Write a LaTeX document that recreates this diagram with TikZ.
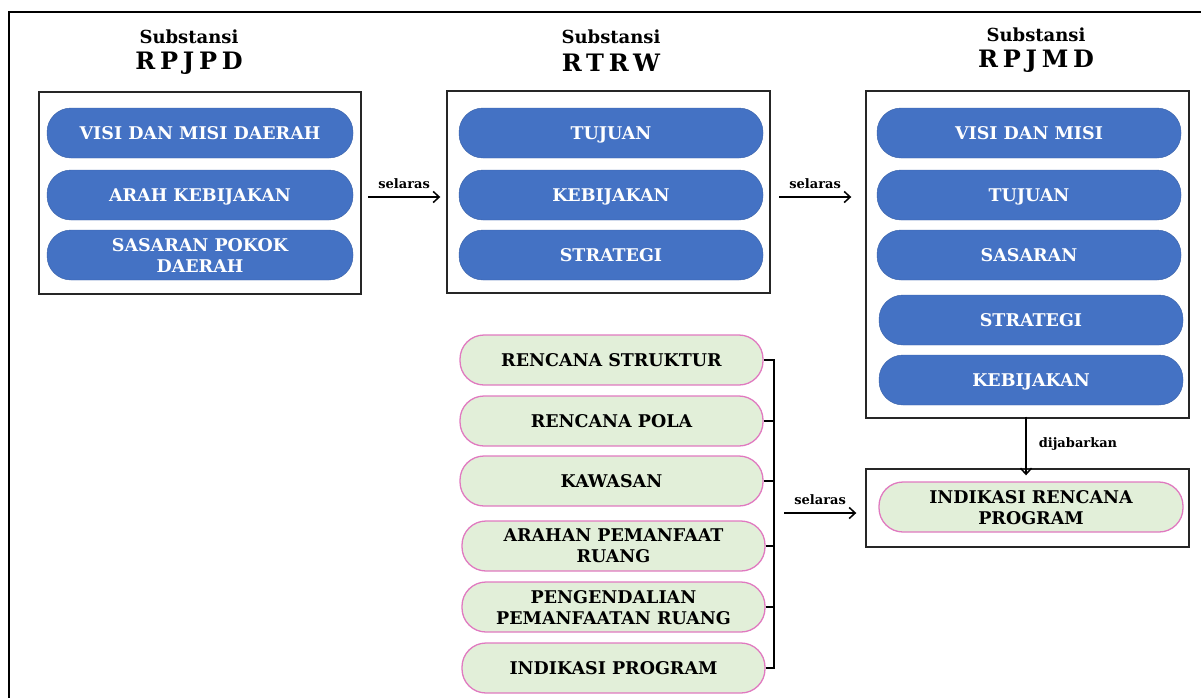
\documentclass[tikz,border=0pt]{standalone}
\usepackage{fontspec}
\setmainfont{DejaVu Serif}
\newfontfamily\hdrfont[LetterSpace=20]{DejaVu Serif}
\usetikzlibrary{arrows.meta,calc}
\definecolor{pblue}{HTML}{4472C4}
\definecolor{pgreen}{HTML}{E2EFD9}
\definecolor{ppink}{HTML}{E07AC0}
\begin{document}
\begin{tikzpicture}[x=1pt,y=-1pt,
  bpill/.style={rectangle,rounded corners=24pt,fill=pblue,draw=pblue!85!black,line width=0.4pt,
    minimum height=50pt,inner sep=0pt,align=center,text depth=0pt,text=white,font=\fontsize{17.5}{21}\selectfont\bfseries},
  gpill/.style={rectangle,rounded corners=24pt,fill=pgreen,draw=ppink,line width=1.3pt,
    minimum height=50pt,inner sep=0pt,align=center,text depth=0pt,text=black,font=\fontsize{17.5}{21}\selectfont\bfseries},
  frame/.style={rectangle,draw=black!85,line width=1.4pt,inner sep=0pt},
  lbl/.style={font=\fontsize{13}{14}\selectfont\bfseries,inner sep=0pt},
  subt/.style={font=\fontsize{18}{20}\selectfont\bfseries,inner sep=0pt},
  acr/.style={font=\fontsize{24}{26}\hdrfont\bfseries,inner sep=0pt},
  arr/.style={-{Straight Barb[length=6pt,width=11pt]},line width=1.5pt},
  brk/.style={line width=1.5pt}]
\useasboundingbox (0,0) rectangle (1201,697);
\clip (0,0) rectangle (1201,697);
\draw[line width=2.6pt] (9,12) rectangle (1220,720);
% headers
\node[subt] (h1s) at (189,37) {Substansi};
\node[acr] (h1a) at (189,63) {RPJPD};
\node[subt] (h2s) at (611,37) {Substansi};
\node[acr] (h2a) at (611,63) {RTRW};
\node[subt] (h3s) at (1036,35) {Substansi};
\node[acr] (h3a) at (1036,61) {RPJMD};
% frames
\node[frame,minimum width=322pt,minimum height=202pt] (b1) at (200,193) {};
\node[frame,minimum width=323pt,minimum height=202pt] (b2) at (608.5,192) {};
\node[frame,minimum width=323pt,minimum height=327pt] (b3) at (1027.5,254.5) {};
\node[frame,minimum width=323pt,minimum height=78pt] (b4) at (1027.5,508) {};
% column 1
\node[bpill,minimum width=306pt] (p11) at (200,133) {VISI DAN MISI DAERAH};
\node[bpill,minimum width=306pt] (p12) at (200,195) {ARAH KEBIJAKAN};
\node[bpill,minimum width=306pt] (p13) at (200,255) {SASARAN POKOK\\DAERAH};
% column 2
\node[bpill,minimum width=304pt] (p21) at (611,133) {TUJUAN};
\node[bpill,minimum width=304pt] (p22) at (611,195) {KEBIJAKAN};
\node[bpill,minimum width=304pt] (p23) at (611,255) {STRATEGI};
% column 3
\node[bpill,minimum width=304pt] (p31) at (1029,133) {VISI DAN MISI};
\node[bpill,minimum width=304pt] (p32) at (1029,195) {TUJUAN};
\node[bpill,minimum width=304pt] (p33) at (1029,255) {SASARAN};
\node[bpill,minimum width=304pt] (p34) at (1031,320) {STRATEGI};
\node[bpill,minimum width=304pt] (p35) at (1031,380) {KEBIJAKAN};
% bottom right
\node[gpill,minimum width=304pt] (p41) at (1031,507) {INDIKASI RENCANA\\PROGRAM};
% green column
\node[gpill,minimum width=303pt] (g1) at (611.5,360) {RENCANA STRUKTUR};
\node[gpill,minimum width=303pt] (g2) at (611.5,421) {RENCANA POLA};
\node[gpill,minimum width=303pt] (g3) at (611.5,481) {KAWASAN};
\node[gpill,minimum width=303pt] (g4) at (613.5,546) {ARAHAN PEMANFAAT\\RUANG};
\node[gpill,minimum width=303pt] (g5) at (613.5,607) {PENGENDALIAN\\PEMANFAATAN RUANG};
\node[gpill,minimum width=303pt] (g6) at (613.5,668) {INDIKASI PROGRAM};
% bracket
\coordinate (bx) at (774,0);
\draw[brk] (g1.east) -- (g1.east -| bx);
\draw[brk] (g2.east) -- (g2.east -| bx);
\draw[brk] (g3.east) -- (g3.east -| bx);
\draw[brk] (g4.east) -- (g4.east -| bx);
\draw[brk] (g5.east) -- (g5.east -| bx);
\draw[brk] (g6.east) -- (g6.east -| bx);
\draw[brk] ([yshift=0.75pt]g1.east -| bx) -- ([yshift=-0.75pt]g6.east -| bx);
% arrows
\coordinate (s1) at (368,197);
\coordinate (s2) at (779,197);
\coordinate (s3) at (784,513);
\draw[arr] (s1) -- node[lbl,above=8pt] (l1) {selaras} ([xshift=-6pt]b2.west |- s1);
\draw[arr] (s2) -- node[lbl,above=8pt] (l2) {selaras} ([xshift=-14pt]b3.west |- s2);
\draw[arr] (s3) -- node[lbl,above=8pt] (l3) {selaras} ([xshift=-9pt]b4.west |- s3);
\draw[arr] ([xshift=-1.5pt,yshift=2pt]b3.south) -- node[lbl,right=12pt,yshift=2pt] (l4) {dijabarkan} ([xshift=-1.5pt,yshift=-7pt]b4.north);
\end{tikzpicture}
\end{document}
